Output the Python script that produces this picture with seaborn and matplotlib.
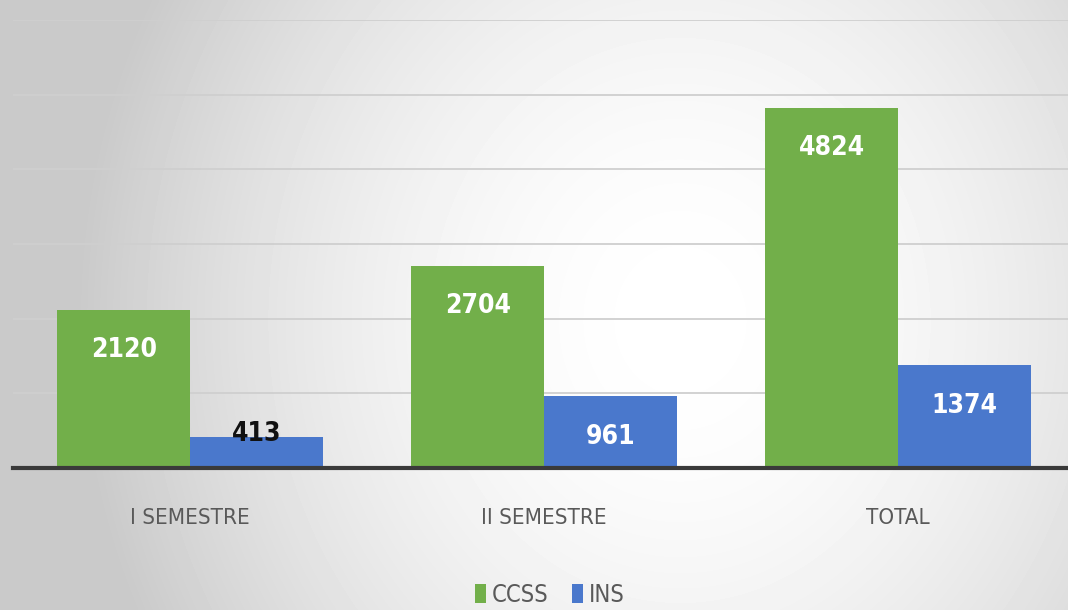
import numpy as np
import pandas as pd
import matplotlib
matplotlib.use("Agg")
import matplotlib.pyplot as plt
import seaborn as sns
from matplotlib.patches import Patch

# data
categories = ["I SEMESTRE", "II SEMESTRE", "TOTAL"]
ccss = [2120, 2704, 4824]
ins = [413, 961, 1374]
series = ["CCSS", "INS"]
colors = {"CCSS": "#72AF4A", "INS": "#4A78CC"}

df = pd.DataFrame({
    "cat": categories * 2,
    "serie": ["CCSS"] * 3 + ["INS"] * 3,
    "valor": ccss + ins,
})

sns.set_theme(style="white")
plt.rcParams['font.family'] = ['DejaVu Sans']
plt.rcParams['font.stretch'] = 'condensed'

fig = plt.figure(figsize=(10.68, 6.10), dpi=100)

# radial grey background
bg = fig.add_axes([0, 0, 1, 1], zorder=0)
yy, xx = np.mgrid[0:610, 0:1068]
d = np.sqrt(((xx - 680) / 620.0) ** 2 + ((yy - 320) / 700.0) ** 2)
shade = np.clip(1.0 - 0.22 * d ** 1.8, 0.79, 1.0)
bg.imshow(shade, cmap="gray", vmin=0, vmax=1, aspect="auto", interpolation="bilinear")
bg.axis("off")

ax = fig.add_axes([13 / 1068, 142 / 610, 1 - 13 / 1068, 448 / 610], zorder=1)
ax.set_facecolor("none")

sns.barplot(data=df, x="cat", y="valor", hue="serie", palette=colors,
            width=0.75, saturation=1, linewidth=0, ax=ax, legend=False, zorder=2)

ax.set_ylim(0, 6000)
ax.set_xlim(-0.5, 2.48)
ax.set_yticks(range(0, 6001, 1000))
ax.yaxis.grid(True, color="#cfcfcf", lw=1.3, zorder=0)
ax.set_axisbelow(True)
ax.tick_params(axis="y", left=False, labelleft=False)
ax.tick_params(axis="x", bottom=False, labelsize=16, colors="#595959", pad=23)
ax.set_xlabel("")
ax.set_ylabel("")
for s in ["top", "right", "left"]:
    ax.spines[s].set_visible(False)
ax.spines["bottom"].set_color("#3a3a3a")
ax.spines["bottom"].set_linewidth(3)

# value labels
for cont, name in zip(ax.containers, series):
    for bar, v in zip(cont, df.loc[df.serie == name, "valor"]):
        x = bar.get_x() + bar.get_width() / 2
        if v < 600:
            ax.annotate(str(v), (x, v), xytext=(0, 2), textcoords="offset points",
                        ha="center", va="center", fontsize=19, fontweight="bold",
                        color="#111111")
        else:
            ax.annotate(str(v), (x, v), xytext=(0, -29), textcoords="offset points",
                        ha="center", va="center", fontsize=19, fontweight="bold",
                        color="white")

handles = [Patch(facecolor=colors[s], edgecolor="none", label=s) for s in series]
fig.legend(handles=handles, loc="center", bbox_to_anchor=(0.515, 0.025), ncol=2,
           frameon=False, fontsize=17, handlelength=0.45, handleheight=0.9,
           handletextpad=0.25, columnspacing=1.0, labelcolor="#595959",
           borderpad=0)

fig.savefig("out.png", dpi=100)
